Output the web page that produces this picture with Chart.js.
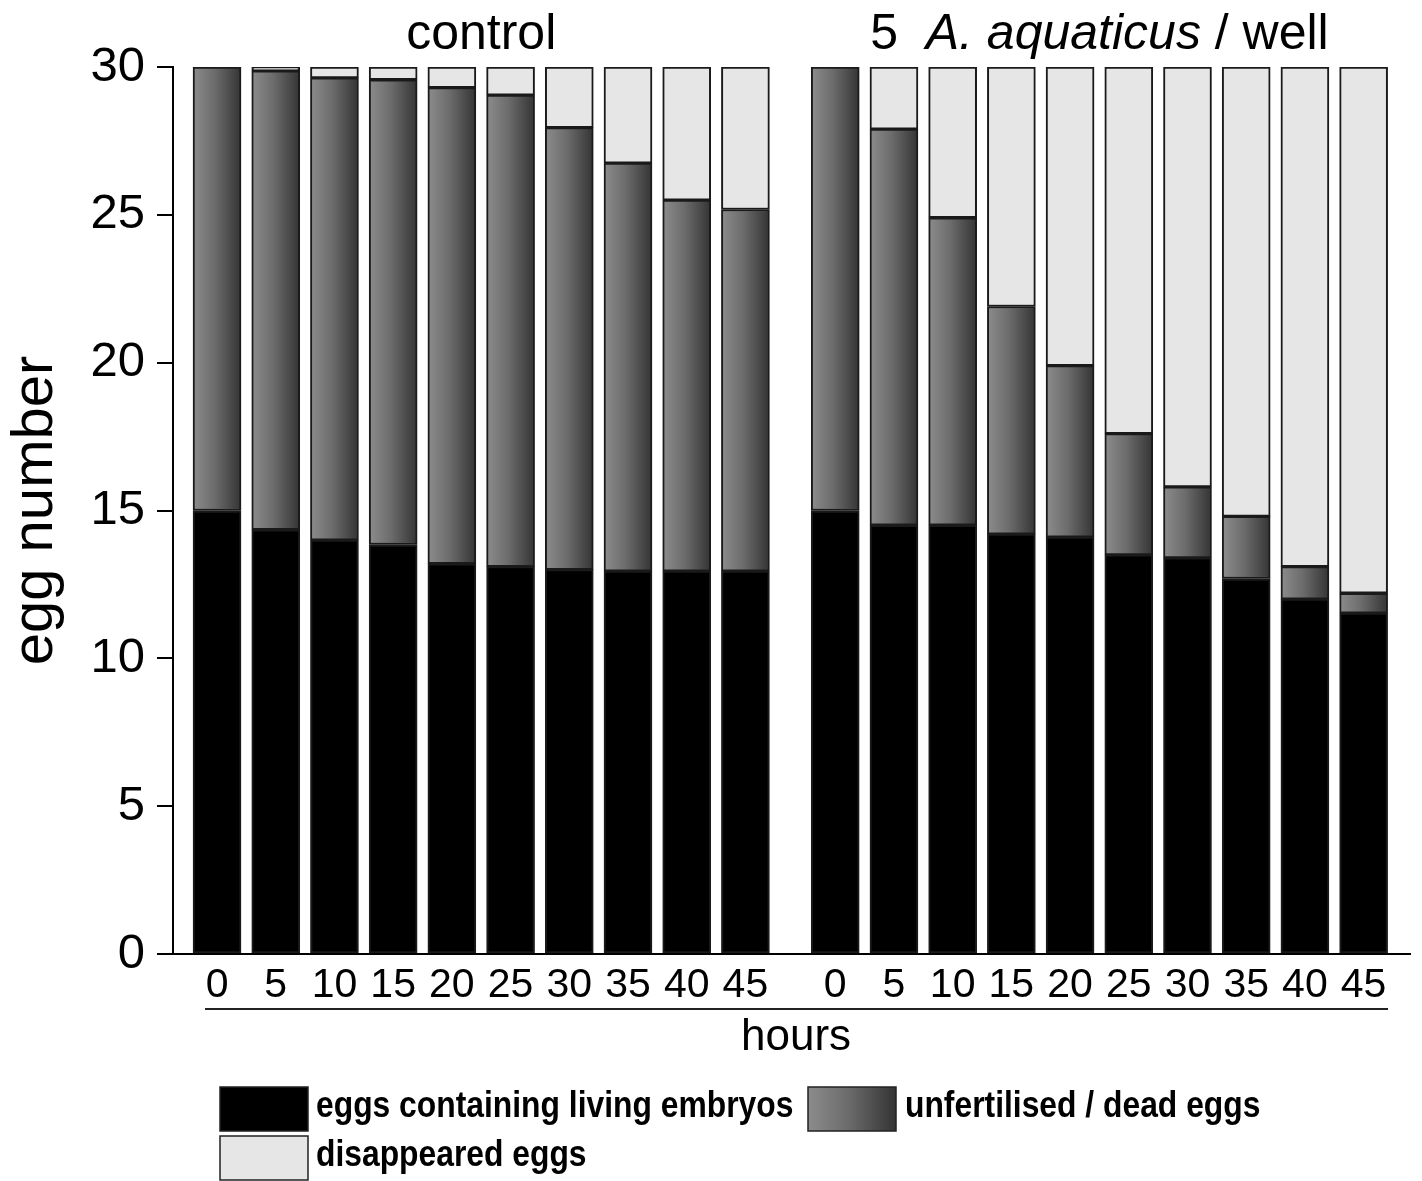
<!DOCTYPE html>
<html>
<head>
<meta charset="utf-8">
<script src="https://cdn.jsdelivr.net/npm/chart.js@4.4.1/dist/chart.umd.min.js"></script>
<style>
  html, body { margin: 0; padding: 0; background: #fff; }
  #wrap { width: 1422px; height: 1181px; position: relative; }
</style>
</head>
<body>
<div id="wrap"><canvas id="chart"></canvas></div>
<script>
// hours after start, same for both groups
const hours = [0, 5, 10, 15, 20, 25, 30, 35, 40, 45];
const seriesLabels = ['eggs containing living embryos', 'unfertilised / dead eggs', 'disappeared eggs'];
const yTicks = [0, 5, 10, 15, 20, 25, 30];

// control
const controlLiving = [15, 14.35, 14.0, 13.85, 13.2, 13.1, 13.0, 12.95, 12.95, 12.95];
const controlDead   = [15, 15.52, 15.63, 15.72, 16.1, 15.95, 14.95, 13.8, 12.55, 12.23];
const controlGone   = [0, 0.13, 0.37, 0.43, 0.7, 0.95, 2.05, 3.25, 4.5, 4.82];

// 5 A. aquaticus / well
const aquaLiving = [15, 14.5, 14.5, 14.2, 14.1, 13.5, 13.4, 12.7, 12.0, 11.53];
const aquaDead   = [15, 13.4, 10.4, 7.7, 5.8, 4.1, 2.4, 2.1, 1.1, 0.67];
const aquaGone   = [0, 2.1, 5.1, 8.1, 10.1, 12.4, 14.2, 15.2, 16.9, 17.8];

// layout
const GROUP_OFFSET = 10.53;   // where the second group starts on the x scale
const BAR_W = 48;
const FONT = "'Liberation Sans', Arial, sans-serif";
const LEGEND_FONT = "bold 37px 'Liberation Sans', Arial, sans-serif";

let tickPos = [];
let tickText = [];
hours.forEach((h, i) => { tickPos.push(i); tickText.push(String(h)); });
hours.forEach((h, i) => { tickPos.push(GROUP_OFFSET + i); tickText.push(String(h)); });

function toPoints(a, b) {
    let pts = a.map((v, i) => ({ x: i, y: v }));
    return pts.concat(b.map((v, i) => ({ x: GROUP_OFFSET + i, y: v })));
}

function greyGradient(c, x0, x1) {
    let g = c.createLinearGradient(x0, 0, x1, 0);
    g.addColorStop(0, '#8c8c8c');
    g.addColorStop(0.45, '#6c6c6c');
    g.addColorStop(1, '#343434');
    return g;
}

function deadFill(ctx) {
    let chart = ctx.chart;
    if (!chart.chartArea || !ctx.raw) return '#666';
    let x = chart.scales.x.getPixelForValue(ctx.raw.x);
    return greyGradient(chart.ctx, x - BAR_W / 2, x + BAR_W / 2);
}

const extras = {
    id: 'extras',
    afterDraw(chart) {
        let c = chart.ctx;
        let xs = chart.scales.x;
        c.save();
        c.fillStyle = '#000';
        c.textBaseline = 'alphabetic';

        // group titles
        c.font = '50px ' + FONT;
        c.textAlign = 'center';
        let cx1 = (xs.getPixelForValue(0) + xs.getPixelForValue(9)) / 2;
        c.fillText('control', cx1, 49);

        let cx2 = (xs.getPixelForValue(GROUP_OFFSET) + xs.getPixelForValue(GROUP_OFFSET + 9)) / 2;
        let parts = [['5  ', '50px ' + FONT], ['A. aquaticus', 'italic 50px ' + FONT], [' / well', '50px ' + FONT]];
        let total = 0;
        parts.forEach(p => { c.font = p[1]; total += c.measureText(p[0]).width; });
        let px = cx2 - total / 2;
        c.textAlign = 'left';
        parts.forEach(p => { c.font = p[1]; c.fillText(p[0], px, 49); px += c.measureText(p[0]).width; });

        // hours underline + label
        c.strokeStyle = '#222';
        c.lineWidth = 2;
        c.beginPath();
        c.moveTo(205, 1009);
        c.lineTo(1388, 1009);
        c.stroke();
        c.font = '44px ' + FONT;
        c.textAlign = 'center';
        c.fillText('hours', 796, 1050);

        // legend
        let boxes = [
            { x: 220, y: 1087, tx: 316, fill: '#000' },
            { x: 808, y: 1087, tx: 905, fill: 'grad' },
            { x: 220, y: 1136, tx: 316, fill: '#e6e6e6' }
        ];
        boxes.forEach((b, i) => {
            c.fillStyle = b.fill === 'grad' ? greyGradient(c, b.x, b.x + 88) : b.fill;
            c.fillRect(b.x, b.y, 88, 44);
            c.strokeStyle = '#222';
            c.lineWidth = 1.5;
            c.strokeRect(b.x, b.y, 88, 44);
            // condensed bold text
            c.save();
            c.translate(b.tx, b.y + 20);
            c.scale(0.86, 1);
            c.fillStyle = '#000';
            c.font = LEGEND_FONT;
            c.textAlign = 'left';
            c.textBaseline = 'middle';
            c.fillText(seriesLabels[i], 0, 0);
            c.restore();
        });
        c.restore();
    }
};

const barStyle = {
    barThickness: BAR_W,
    borderColor: '#1a1a1a',
    borderWidth: 2,
    borderSkipped: false
};

new Chart(document.getElementById('chart'), {
    type: 'bar',
    data: {
        datasets: [
            Object.assign({ label: seriesLabels[0], data: toPoints(controlLiving, aquaLiving), backgroundColor: '#000' }, barStyle),
            Object.assign({ label: seriesLabels[1], data: toPoints(controlDead, aquaDead), backgroundColor: deadFill }, barStyle),
            Object.assign({ label: seriesLabels[2], data: toPoints(controlGone, aquaGone), backgroundColor: '#e6e6e6' }, barStyle)
        ]
    },
    options: {
        responsive: true,
        maintainAspectRatio: false,
        animation: false,
        layout: { padding: { top: 67, right: 12, left: 0, bottom: 0 } },
        plugins: {
            legend: { display: false },
            tooltip: { enabled: false }
        },
        scales: {
            x: {
                type: 'linear',
                stacked: true,
                offset: false,
                min: -0.75,
                max: 20.32,
                grid: { display: false, drawTicks: false },
                border: { display: true, color: '#000', width: 2 },
                afterBuildTicks: s => { s.ticks = tickPos.map(v => ({ value: v })); },
                afterFit: s => { s.height = 227; },
                ticks: {
                    autoSkip: false,
                    maxRotation: 0,
                    padding: 7,
                    color: '#000',
                    font: { family: FONT, size: 41 },
                    callback: (v, i) => tickText[i]
                }
            },
            y: {
                stacked: true,
                min: 0,
                max: 30,
                afterBuildTicks: s => { s.ticks = yTicks.map(v => ({ value: v })); },
                afterFit: s => { s.width = 173; },
                grid: { drawOnChartArea: false, drawTicks: true, tickLength: 16, color: '#000', lineWidth: 2 },
                border: { display: true, color: '#000', width: 2 },
                ticks: {
                    padding: 12,
                    color: '#000',
                    font: { family: FONT, size: 49 }
                },
                title: {
                    display: true,
                    text: 'egg number',
                    color: '#000',
                    font: { family: FONT, size: 58 },
                    padding: { top: 1, bottom: 0 }
                }
            }
        }
    },
    plugins: [extras]
});
</script>
</body>
</html>
